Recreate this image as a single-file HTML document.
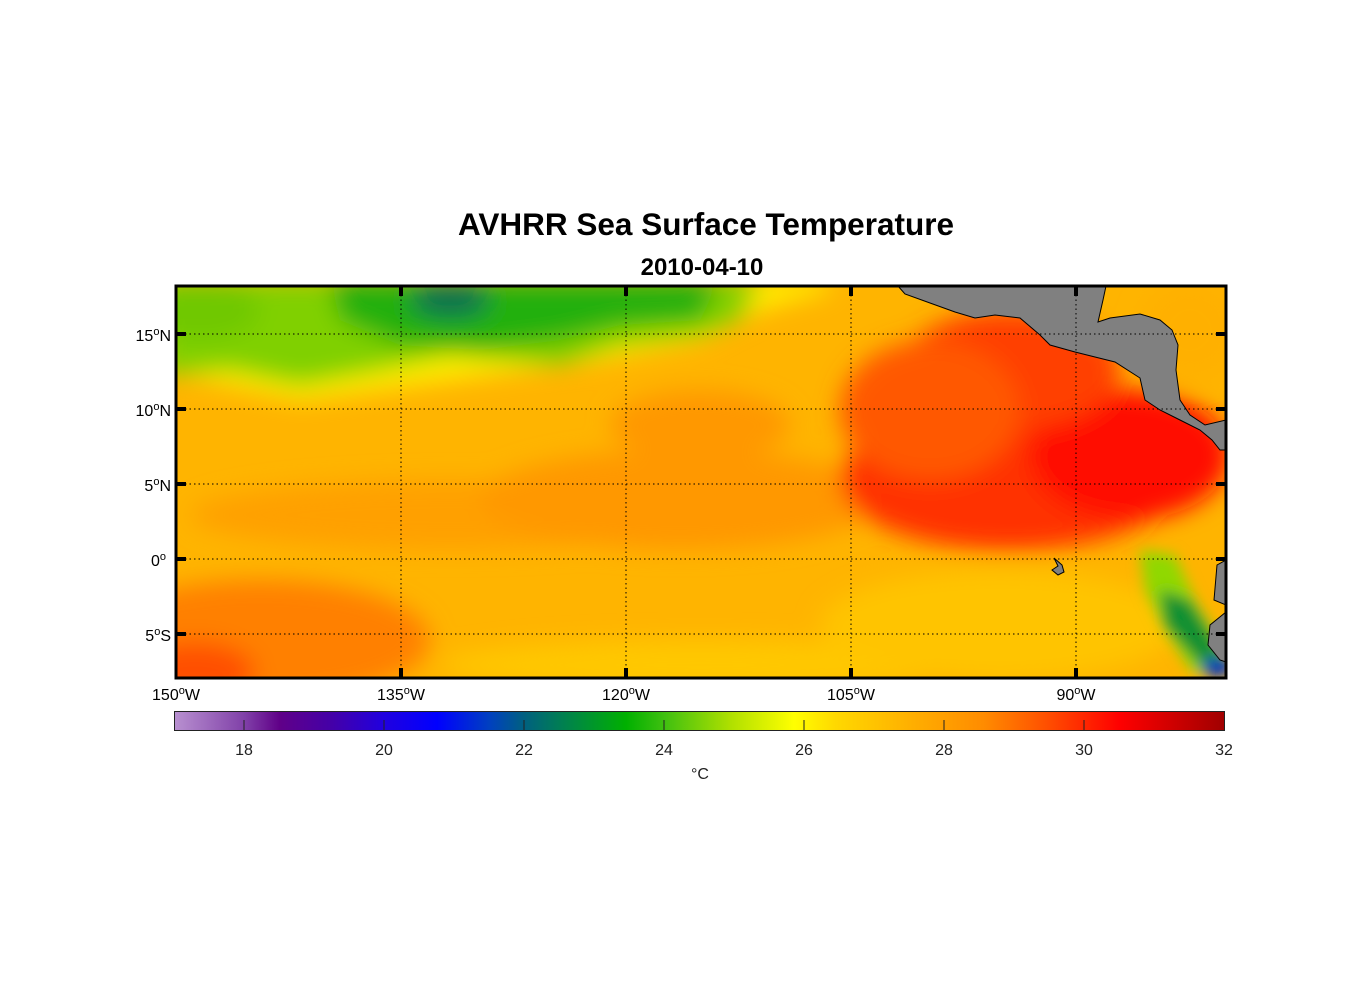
<!DOCTYPE html>
<html><head><meta charset="utf-8"><style>
html,body{margin:0;padding:0;background:#fff;width:1356px;height:1000px;overflow:hidden}
text{font-family:"Liberation Sans",Arial,sans-serif}
</style></head><body>
<svg width="1356" height="1000" viewBox="0 0 1356 1000" xmlns="http://www.w3.org/2000/svg">
<defs>
<clipPath id="mc"><rect x="176" y="286" width="1050" height="392"/></clipPath>
<filter id="bl" x="-20%" y="-20%" width="140%" height="140%"><feGaussianBlur stdDeviation="12"/></filter>
<filter id="bl2" x="-20%" y="-20%" width="140%" height="140%"><feGaussianBlur stdDeviation="7"/></filter>
<linearGradient id="cb" x1="0" x2="1" y1="0" y2="0">
<stop offset="0" stop-color="#b890d0"/>
<stop offset="0.067" stop-color="#8040a8"/>
<stop offset="0.1" stop-color="#600088"/>
<stop offset="0.15" stop-color="#4400a8"/>
<stop offset="0.2" stop-color="#2000e0"/>
<stop offset="0.25" stop-color="#0000ff"/>
<stop offset="0.3" stop-color="#0040c0"/>
<stop offset="0.333" stop-color="#006080"/>
<stop offset="0.37" stop-color="#008050"/>
<stop offset="0.43" stop-color="#00b000"/>
<stop offset="0.467" stop-color="#40c010"/>
<stop offset="0.53" stop-color="#b0e000"/>
<stop offset="0.59" stop-color="#ffff00"/>
<stop offset="0.63" stop-color="#ffd800"/>
<stop offset="0.7" stop-color="#ffb000"/>
<stop offset="0.77" stop-color="#ff8c00"/>
<stop offset="0.83" stop-color="#ff5000"/>
<stop offset="0.9" stop-color="#ff0000"/>
<stop offset="1" stop-color="#a00000"/>
</linearGradient>
</defs>
<text x="706" y="235" text-anchor="middle" font-size="31.5" font-weight="bold">AVHRR Sea Surface Temperature</text>
<text x="702" y="275" text-anchor="middle" font-size="24" font-weight="bold">2010-04-10</text>
<g clip-path="url(#mc)">
<rect x="150" y="260" width="1100" height="440" fill="#ffb400"/>
<g filter="url(#bl)">
<ellipse cx="260" cy="640" rx="170" ry="60" fill="#ff8000"/>
<ellipse cx="195" cy="672" rx="60" ry="30" fill="#ff5000"/>
<ellipse cx="450" cy="515" rx="260" ry="35" fill="#ffa000"/>
<ellipse cx="680" cy="500" rx="200" ry="50" fill="#ff9800"/>
<ellipse cx="700" cy="425" rx="90" ry="35" fill="#ff9800"/>
<ellipse cx="700" cy="665" rx="260" ry="25" fill="#ffc800"/>
<ellipse cx="1000" cy="625" rx="180" ry="55" fill="#ffc400"/>
<path d="M160 370 L300 400 L450 380 L600 360 L700 340 L760 310 L830 290 L830 280 L160 280Z" fill="#ffee00"/>
<path d="M160 280 L760 280 L740 320 L700 335 L620 345 L560 365 L450 355 L380 370 L300 385 L230 370 L160 375Z" fill="#80d000"/>
<path d="M330 280 L720 280 L700 320 L620 325 L560 340 L480 350 L400 345 L340 320Z" fill="#20b010"/>
<ellipse cx="450" cy="300" rx="40" ry="18" fill="#107050"/>
<ellipse cx="200" cy="310" rx="60" ry="30" fill="#70c800"/>
<ellipse cx="1010" cy="480" rx="170" ry="70" fill="#ff3000"/>
<ellipse cx="1130" cy="455" rx="100" ry="65" fill="#ff1000"/>
<ellipse cx="1010" cy="370" rx="110" ry="60" fill="#ff4000"/>
<ellipse cx="930" cy="410" rx="90" ry="70" fill="#ff5800"/>
<ellipse cx="1190" cy="330" rx="50" ry="50" fill="#ffb000"/>
</g>
<g filter="url(#bl2)">
<path d="M1140 550 L1175 555 L1195 600 L1220 640 L1230 680 L1190 670 L1165 630 L1145 590Z" fill="#90d800"/>
<path d="M1160 590 L1190 600 L1215 640 L1230 670 L1200 665 L1165 625Z" fill="#109030"/>
<ellipse cx="1218" cy="668" rx="16" ry="10" fill="#0030c0"/>
</g>
<g fill="#808080" stroke="#000" stroke-width="1">
<path d="M898 286 L905 294 L930 303 L955 312 L975 318 L995 315 L1020 318 L1040 335 L1050 345 L1075 352 L1095 357 L1115 362 L1140 378 L1145 400 L1160 410 L1180 420 L1200 430 L1212 440 L1220 450 L1226 450 L1226 420 L1205 425 L1190 415 L1180 400 L1176 370 L1178 345 L1172 330 L1160 320 L1140 314 L1110 318 L1098 322 L1103 300 L1106 286Z"/>
<path d="M1226 560 L1217 565 L1214 600 L1226 605Z"/>
<path d="M1226 612 L1210 625 L1208 645 L1220 660 L1226 662Z"/>
<path d="M1054 558 L1062 565 L1064 572 L1058 575 L1052 570 L1058 566Z"/>
</g>
<g stroke="#000" stroke-width="1" stroke-dasharray="1.5,3">
<line x1="401" y1="286" x2="401" y2="678"/><line x1="626" y1="286" x2="626" y2="678"/>
<line x1="851" y1="286" x2="851" y2="678"/><line x1="1076" y1="286" x2="1076" y2="678"/>
<line x1="176" y1="334" x2="1226" y2="334"/><line x1="176" y1="409" x2="1226" y2="409"/>
<line x1="176" y1="484" x2="1226" y2="484"/><line x1="176" y1="559" x2="1226" y2="559"/>
<line x1="176" y1="634" x2="1226" y2="634"/>
</g>
</g>
<rect x="176" y="286" width="1050" height="392" fill="none" stroke="#000" stroke-width="3"/>
<g stroke="#000" stroke-width="4">
<line x1="401" y1="286" x2="401" y2="296"/><line x1="626" y1="286" x2="626" y2="296"/><line x1="851" y1="286" x2="851" y2="296"/><line x1="1076" y1="286" x2="1076" y2="296"/>
<line x1="401" y1="678" x2="401" y2="668"/><line x1="626" y1="678" x2="626" y2="668"/><line x1="851" y1="678" x2="851" y2="668"/><line x1="1076" y1="678" x2="1076" y2="668"/>
<line x1="176" y1="334" x2="186" y2="334"/><line x1="176" y1="409" x2="186" y2="409"/><line x1="176" y1="484" x2="186" y2="484"/><line x1="176" y1="559" x2="186" y2="559"/><line x1="176" y1="634" x2="186" y2="634"/>
<line x1="1226" y1="334" x2="1216" y2="334"/><line x1="1226" y1="409" x2="1216" y2="409"/><line x1="1226" y1="484" x2="1216" y2="484"/><line x1="1226" y1="559" x2="1216" y2="559"/><line x1="1226" y1="634" x2="1216" y2="634"/>
</g>
<g font-size="16" text-anchor="end">
<text x="171" y="341">15<tspan dy="-6" font-size="11">o</tspan><tspan dy="6">N</tspan></text>
<text x="171" y="416">10<tspan dy="-6" font-size="11">o</tspan><tspan dy="6">N</tspan></text>
<text x="171" y="491">5<tspan dy="-6" font-size="11">o</tspan><tspan dy="6">N</tspan></text>
<text x="166" y="566">0<tspan dy="-6" font-size="11">o</tspan></text>
<text x="171" y="641">5<tspan dy="-6" font-size="11">o</tspan><tspan dy="6">S</tspan></text>
</g>
<g font-size="16" text-anchor="middle">
<text x="176" y="700">150<tspan dy="-6" font-size="11">o</tspan><tspan dy="6">W</tspan></text>
<text x="401" y="700">135<tspan dy="-6" font-size="11">o</tspan><tspan dy="6">W</tspan></text>
<text x="626" y="700">120<tspan dy="-6" font-size="11">o</tspan><tspan dy="6">W</tspan></text>
<text x="851" y="700">105<tspan dy="-6" font-size="11">o</tspan><tspan dy="6">W</tspan></text>
<text x="1076" y="700">90<tspan dy="-6" font-size="11">o</tspan><tspan dy="6">W</tspan></text>
</g>
<rect x="174.5" y="711.5" width="1050" height="19" fill="url(#cb)" stroke="#222" stroke-width="1"/>
<g stroke="#222" stroke-width="1">
<line x1="244" y1="720" x2="244" y2="730"/><line x1="384" y1="720" x2="384" y2="730"/><line x1="524" y1="720" x2="524" y2="730"/><line x1="664" y1="720" x2="664" y2="730"/><line x1="804" y1="720" x2="804" y2="730"/><line x1="944" y1="720" x2="944" y2="730"/><line x1="1084" y1="720" x2="1084" y2="730"/>
</g>
<g font-size="16" text-anchor="middle" fill="#222">
<text x="244" y="755">18</text><text x="384" y="755">20</text><text x="524" y="755">22</text><text x="664" y="755">24</text><text x="804" y="755">26</text><text x="944" y="755">28</text><text x="1084" y="755">30</text><text x="1224" y="755">32</text>
<text x="700" y="779">°C</text>
</g>
</svg>
</body></html>
